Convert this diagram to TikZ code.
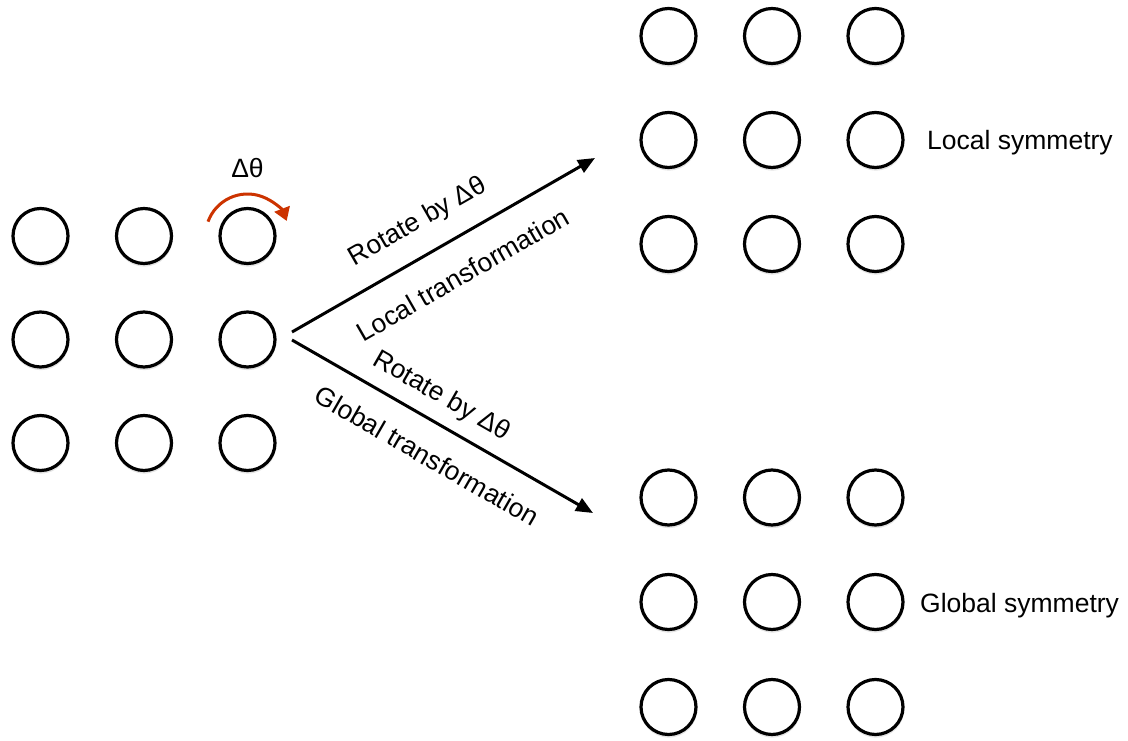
\documentclass[tikz,border=0pt]{standalone}
\usepackage{fontspec}
\setmainfont{Liberation Sans}
\usetikzlibrary{arrows.meta,shadows}
\definecolor{turnred}{RGB}{204,51,0}
\begin{document}
\begin{tikzpicture}[x=1pt,y=1pt,
  site/.style={circle,draw=black,line width=3.2pt,fill=white,inner sep=0pt,
    minimum size=55pt,
    drop shadow={shadow xshift=0.3pt,shadow yshift=-2.2pt,shadow scale=1.03,opacity=0.22}},
  lbl/.style={font=\fontsize{26.5}{30}\selectfont,inner sep=0pt},
  maparrow/.style={line width=3pt,-{Triangle[length=17pt,width=14pt]}},
  turn/.style={draw=turnred,line width=3pt,-{Triangle[length=13pt,width=16pt]}}]
\useasboundingbox (0,0) rectangle (1128,740);

% source lattice
\foreach \c/\x in {1/40.5,2/144,3/247.5}
  \foreach \r/\y in {1/504,2/400.5,3/297}
    \node[site] (L\r\c) at (\x,\y) {};

% lattice after the local transformation
\foreach \c/\x in {1/668.5,2/772,3/875.5}
  \foreach \r/\y in {1/704,2/600,3/496}
    \node[site] (A\r\c) at (\x,\y) {};

% lattice after the global transformation
\foreach \c/\x in {1/668.5,2/772,3/875.5}
  \foreach \r/\y in {1/242.5,2/138,3/33}
    \node[site] (B\r\c) at (\x,\y) {};

% rotation of a single site
\draw[turn] ([shift={(160:42)}]L13.center) arc[start angle=160,end angle=21,radius=42];
\node[lbl] (dth) at (247.5,572) {Δθ};

% transformation arrows
\coordinate (s1) at (292,408);
\coordinate (t1) at (595,582);
\coordinate (s2) at (292,400);
\coordinate (t2) at (593,227);

\draw[maparrow] (s1) -- (t1)
  node[lbl,pos=0.469,sloped,above=18.5pt] (r1) {Rotate by Δθ}
  node[lbl,pos=0.506,sloped,below=24pt] (lt) {Local transformation};
\draw[maparrow] (s2) -- (t2)
  node[lbl,pos=0.454,sloped,above=11.5pt] (r2) {Rotate by Δθ}
  node[lbl,pos=0.503,sloped,below=22pt] (gt) {Global transformation};

% result labels
\node[lbl,anchor=base west] (ls) at (927,590) {Local symmetry};
\node[lbl,anchor=base west] (gs) at (920,128) {Global symmetry};
\end{tikzpicture}
\end{document}
